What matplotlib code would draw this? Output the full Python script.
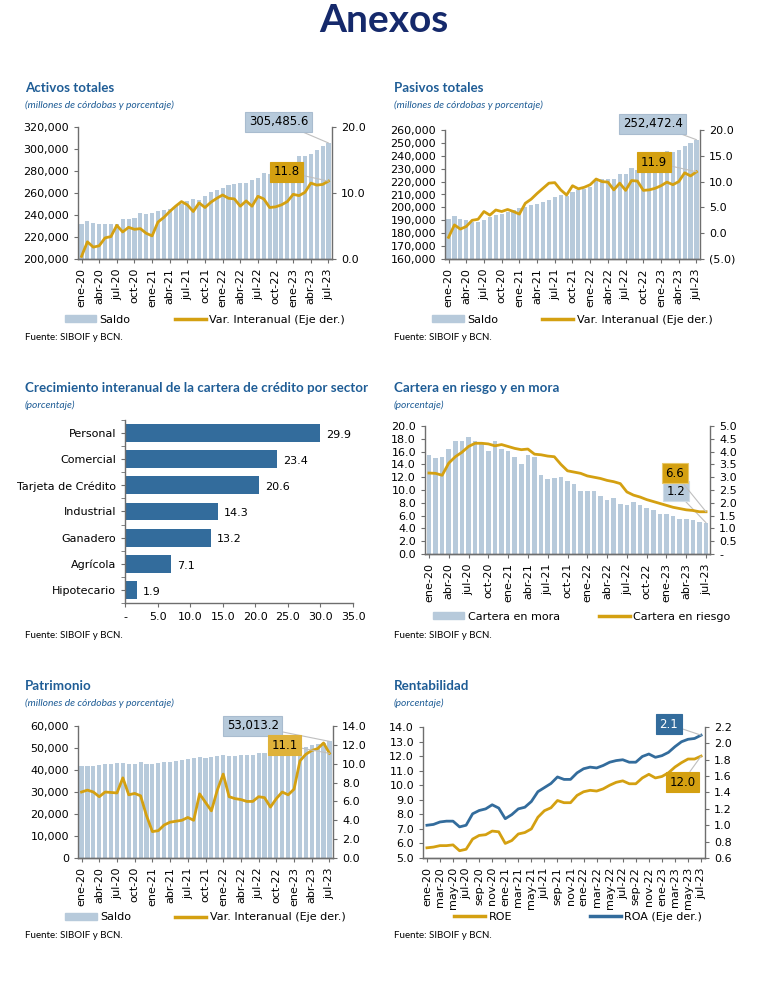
import matplotlib
matplotlib.use('Agg')
import matplotlib.pyplot as plt
from matplotlib.patches import Patch
from matplotlib.lines import Line2D

# meses ene-20 .. jul-23
meses = ['ene', 'feb', 'mar', 'abr', 'may', 'jun', 'jul', 'ago', 'sep', 'oct', 'nov', 'dic']
fechas = [m + '-' + str(a) for a in (20, 21, 22, 23) for m in meses][:43]

activos_saldo = [232000, 235000, 233000, 231500, 231500, 231500, 232000, 236000, 236500, 237500,
                 242000, 241000, 242000, 243500, 245000, 245500, 248500, 250000, 252500, 254500,
                 253500, 257500, 260500, 262500, 265000, 267000, 268000, 269000, 269000, 272000,
                 274000, 278000, 277500, 281000, 282000, 285500, 288000, 294000, 294000, 295500,
                 299500, 303000, 305485.6]
activos_var = [0.4, 2.6, 1.8, 2.0, 3.2, 3.4, 5.1, 4.1, 4.8, 4.5, 4.6, 3.9, 3.5, 5.6, 6.3, 7.2, 8.0,
               8.7, 8.2, 7.2, 8.5, 7.8, 8.6, 9.2, 9.7, 9.2, 9.1, 8.0, 8.8, 8.0, 9.5, 9.1, 7.8, 7.9,
               8.2, 8.7, 9.8, 9.6, 10.1, 11.5, 11.2, 11.3, 11.8]

pasivos_saldo = [191200, 193500, 191200, 190000, 189000, 188300, 190000, 192800, 194300, 194800,
                 196400, 198100, 199400, 200200, 202000, 203000, 204000, 205700, 208300, 209300,
                 209000, 211800, 213600, 214200, 216000, 221800, 222100, 222100, 222100, 225700,
                 225700, 230600, 229000, 231900, 232000, 233000, 235500, 243500, 242700, 244500,
                 247600, 250200, 252472.4]
pasivos_var = [-0.8, 1.6, 0.8, 1.3, 2.5, 2.7, 4.2, 3.5, 4.5, 4.2, 4.6, 4.2, 3.7, 5.8, 6.6, 7.7, 8.7,
               9.7, 9.8, 8.4, 7.4, 9.2, 8.6, 8.9, 9.4, 10.5, 10.0, 9.9, 8.4, 9.7, 8.3, 10.2, 10.1,
               8.3, 8.4, 8.7, 9.2, 9.9, 9.4, 10.0, 11.7, 11.1, 11.9]

sectores = ['Personal', 'Comercial', 'Tarjeta de Crédito', 'Industrial', 'Ganadero', 'Agrícola', 'Hipotecario']
crec_sector = [29.9, 23.4, 20.6, 14.3, 13.2, 7.1, 1.9]

cartera_mora = [3.85, 3.75, 3.8, 4.12, 4.4, 4.42, 4.57, 4.42, 4.35, 4.02, 4.4, 4.1, 4.02, 3.8, 3.5,
                3.85, 3.8, 3.1, 2.92, 2.97, 3.02, 2.85, 2.72, 2.45, 2.45, 2.45, 2.27, 2.12, 2.2,
                1.97, 1.92, 2.05, 1.9, 1.8, 1.7, 1.55, 1.55, 1.47, 1.35, 1.35, 1.32, 1.25, 1.22]
cartera_riesgo = [12.65, 12.6, 12.3, 14.2, 15.2, 15.9, 16.8, 17.3, 17.3, 17.2, 16.9, 17.1, 16.8,
                  16.5, 16.3, 16.4, 15.6, 15.5, 15.3, 15.2, 14.0, 13.0, 12.8, 12.6, 12.2, 12.0,
                  11.8, 11.5, 11.3, 11.0, 9.7, 9.2, 8.9, 8.5, 8.2, 7.9, 7.6, 7.3, 7.1, 6.9, 6.8,
                  6.6, 6.6]

patrimonio_saldo = [42000, 42000, 42000, 42400, 42800, 42800, 43200, 43200, 42800, 42800, 43600,
                    42800, 42800, 43200, 43600, 43600, 44000, 44400, 45000, 45400, 45800, 45400,
                    45800, 46200, 46600, 46200, 46200, 46600, 47000, 47000, 47800, 47800, 47400,
                    47800, 48200, 48600, 49000, 49800, 50600, 51200, 51800, 52200, 53013.2]
patrimonio_var = [7.0, 7.2, 7.0, 6.5, 7.0, 6.95, 6.9, 8.5, 6.7, 6.85, 6.6, 4.5, 2.8, 2.9, 3.5, 3.8,
                  3.9, 4.0, 4.3, 4.0, 6.8, 5.9, 5.0, 7.2, 8.9, 6.5, 6.3, 6.2, 6.0, 6.0, 6.5, 6.4,
                  5.4, 6.3, 7.0, 6.7, 7.3, 10.3, 11.0, 11.4, 11.6, 12.2, 11.1]

roe = [5.7, 5.75, 5.85, 5.85, 5.9, 5.5, 5.6, 6.3, 6.55, 6.6, 6.85, 6.8, 6.0, 6.2, 6.65, 6.75, 7.0,
       7.8, 8.25, 8.45, 8.95, 8.8, 8.8, 9.3, 9.55, 9.65, 9.6, 9.75, 10.0, 10.2, 10.3, 10.1, 10.1,
       10.5, 10.75, 10.5, 10.6, 10.85, 11.25, 11.55, 11.8, 11.8, 12.0]
roa = [1.0, 1.01, 1.04, 1.05, 1.05, 0.98, 1.0, 1.14, 1.18, 1.2, 1.25, 1.21, 1.08, 1.13, 1.2, 1.22,
       1.29, 1.41, 1.46, 1.51, 1.59, 1.56, 1.56, 1.64, 1.69, 1.71, 1.70, 1.73, 1.77, 1.79, 1.80,
       1.77, 1.77, 1.84, 1.87, 1.83, 1.85, 1.89, 1.96, 2.02, 2.05, 2.06, 2.1]

BAR = '#b7cadb'
GOLD = '#d4a011'
AZUL = '#336c9c'
TITULO = '#1f5d96'
EJE = '#6e6e6e'
FONT_TIT = ['Lato', 'DejaVu Sans']

W, H = 783, 1000
fig = plt.figure(figsize=(W / 100, H / 100), dpi=100)
fig.patch.set_facecolor('white')


def ejes(l, t, r, b):
    return fig.add_axes([l / W, 1 - b / H, (r - l) / W, (b - t) / H])


def estilo(ax, derecho=False):
    ax.spines['top'].set_visible(False)
    if not derecho:
        ax.spines['right'].set_visible(False)
    for s in ('left', 'right', 'bottom'):
        ax.spines[s].set_color(EJE)
        ax.spines[s].set_linewidth(1.0)
    ax.tick_params(labelsize=8, length=3, color=EJE, direction='out')


def cabecera(x, y, titulo, sub):
    fig.text(x / W, 1 - y / H, titulo, fontsize=9.6, fontweight='bold', color=TITULO,
             family=FONT_TIT, va='center')
    fig.text(x / W, 1 - (y + 17) / H, sub, fontsize=7.4, style='italic', color=TITULO,
             family=FONT_TIT, va='center')


def fuente(x, y):
    fig.text(x / W, 1 - y / H, 'Fuente: SIBOIF y BCN.', fontsize=7, family=FONT_TIT, va='center')


def etiqueta(ax, texto, xy, xytext, fc, tc='black', ec=None):
    ax.annotate(texto, xy=xy, xycoords='data', xytext=xytext, textcoords='axes fraction',
                fontsize=8.5, color=tc, ha='center', va='center', zorder=10,
                bbox=dict(boxstyle='square,pad=0.3', fc=fc, ec=ec or fc, lw=0.8),
                arrowprops=dict(arrowstyle='-', color='#bfbfbf', lw=0.8,
                                shrinkA=0, shrinkB=0), annotation_clip=False)


def leyenda(ax, handles, labels, y, spacing, x=0.5):
    ax.legend(handles, labels, loc='center', bbox_to_anchor=(x, y), ncol=2, frameon=False,
              fontsize=8, handlelength=2.8, handleheight=0.6, columnspacing=spacing,
              handletextpad=0.3)


def fechas_eje(ax, paso):
    idx = list(range(0, 43, paso))
    ax.set_xticks(idx)
    ax.set_xticklabels([fechas[i] for i in idx], rotation=90)
    ax.set_xlim(-0.6, 42.6)


x = list(range(43))

fig.text(0.49, 1 - 21 / H, 'Anexos', fontsize=28, fontweight='bold', color='#15296b',
         ha='center', va='center', family=FONT_TIT)

# ---- Activos totales
cabecera(25, 88, 'Activos totales', '(millones de córdobas y porcentaje)')
ax = ejes(78, 127, 332, 259)
ax.bar(x, activos_saldo, width=0.7, color=BAR)
ax.set_ylim(200000, 320000)
ax.set_yticks(range(200000, 320001, 20000))
ax.yaxis.set_major_formatter(matplotlib.ticker.StrMethodFormatter('{x:,.0f}'))
fechas_eje(ax, 3)
estilo(ax)
ax2 = ax.twinx()
ax2.plot(x, activos_var, color=GOLD, lw=2)
ax2.set_ylim(0, 20)
ax2.set_yticks([0, 10, 20])
ax2.set_yticklabels(['0.0', '10.0', '20.0'])
estilo(ax2, True)
ax2.spines['left'].set_visible(False)
etiqueta(ax, '305,485.6', (42, activos_saldo[-1]), (0.79, 1.04), '#b7cadb', ec='#a9bccf')
etiqueta(ax2, '11.8', (42, activos_var[-1]), (0.82, 0.66), GOLD)
leyenda(ax, [Patch(color=BAR), Line2D([], [], color=GOLD, lw=2.5)],
        ['Saldo', 'Var. Interanual (Eje der.)'], -0.46, 4)
fuente(25, 337)

# ---- Pasivos totales
cabecera(394, 88, 'Pasivos totales', '(millones de córdobas y porcentaje)')
ax = ejes(445, 130, 700, 259)
ax.bar(x, pasivos_saldo, width=0.7, color=BAR)
ax.set_ylim(160000, 260000)
ax.set_yticks(range(160000, 260001, 10000))
ax.yaxis.set_major_formatter(matplotlib.ticker.StrMethodFormatter('{x:,.0f}'))
fechas_eje(ax, 3)
estilo(ax)
ax2 = ax.twinx()
ax2.plot(x, pasivos_var, color=GOLD, lw=2)
ax2.set_ylim(-5, 20)
ax2.set_yticks([-5, 0, 5, 10, 15, 20])
ax2.set_yticklabels(['(5.0)', '0.0', '5.0', '10.0', '15.0', '20.0'])
estilo(ax2, True)
ax2.spines['left'].set_visible(False)
etiqueta(ax, '252,472.4', (42, pasivos_saldo[-1]), (0.815, 1.05), '#b7cadb', ec='#a9bccf')
etiqueta(ax2, '11.9', (42, pasivos_var[-1]), (0.82, 0.75), GOLD)
leyenda(ax, [Patch(color=BAR), Line2D([], [], color=GOLD, lw=2.5)],
        ['Saldo', 'Var. Interanual (Eje der.)'], -0.47, 4)
fuente(394, 337)

# ---- Crecimiento por sector
cabecera(25, 388, 'Crecimiento interanual de la cartera de crédito por sector', '(porcentaje)')
ax = ejes(125, 420, 353, 603)
y = list(range(len(sectores)))
ax.barh(y, crec_sector, height=0.68, color=AZUL)
ax.set_ylim(len(sectores) - 0.5, -0.5)
ax.set_yticks(y)
ax.set_yticklabels(sectores)
ax.set_yticks([i - 0.5 for i in range(len(sectores) + 1)], minor=True)
ax.tick_params(axis='y', which='major', length=0)
ax.tick_params(axis='y', which='minor', length=3, color=EJE)
ax.set_xlim(0, 35)
ax.set_xticks(range(0, 36, 5))
ax.set_xticklabels(['-'] + ['%.1f' % v for v in range(5, 36, 5)])
estilo(ax)
for i, v in enumerate(crec_sector):
    ax.text(v + 0.9, i + 0.07, '%.1f' % v, va='center', fontsize=8)
fuente(25, 635)

# ---- Cartera en riesgo y en mora
cabecera(394, 388, 'Cartera en riesgo y en mora', '(porcentaje)')
ax = ejes(425, 426, 710, 554)
ax.set_ylim(0, 20)
ax.set_yticks(range(0, 21, 2))
ax.set_yticklabels(['%.1f' % v for v in range(0, 21, 2)])
fechas_eje(ax, 3)
estilo(ax)
ax2 = ax.twinx()
ax2.bar(x, cartera_mora, width=0.7, color=BAR)
ax2.set_ylim(0, 5)
ax2.set_yticks([i * 0.5 for i in range(11)])
ax2.set_yticklabels(['-'] + ['%.1f' % (i * 0.5) for i in range(1, 11)])
estilo(ax2, True)
ax2.spines['left'].set_visible(False)
ax.set_zorder(ax2.get_zorder() + 1)
ax.patch.set_visible(False)
ax.plot(x, cartera_riesgo, color=GOLD, lw=2)
etiqueta(ax, '6.6', (42, cartera_riesgo[-1]), (0.877, 0.63), GOLD, ec='#e8c86a')
etiqueta(ax2, '1.2', (42, cartera_mora[-1]), (0.88, 0.49), '#b7cadb', ec='#d0dde9')
leyenda(ax, [Patch(color=BAR), Line2D([], [], color=GOLD, lw=2.5)],
        ['Cartera en mora', 'Cartera en riesgo'], -0.49, 3.5, x=0.55)
fuente(394, 635)

# ---- Patrimonio
cabecera(25, 686, 'Patrimonio', '(millones de córdobas y porcentaje)')
ax = ejes(78, 726, 333, 858)
ax.bar(x, patrimonio_saldo, width=0.7, color=BAR)
ax.set_ylim(0, 60000)
ax.set_yticks(range(0, 60001, 10000))
ax.yaxis.set_major_formatter(matplotlib.ticker.StrMethodFormatter('{x:,.0f}'))
fechas_eje(ax, 3)
estilo(ax)
ax2 = ax.twinx()
ax2.plot(x, patrimonio_var, color=GOLD, lw=2)
ax2.set_ylim(0, 14)
ax2.set_yticks(range(0, 15, 2))
ax2.set_yticklabels(['%.1f' % v for v in range(0, 15, 2)])
estilo(ax2, True)
ax2.spines['left'].set_visible(False)
etiqueta(ax, '53,013.2', (42, patrimonio_saldo[-1]), (0.686, 1.0), '#b7cadb', ec='#a9bccf')
etiqueta(ax2, '11.1', (42, patrimonio_var[-1]), (0.81, 0.856), '#dfb23a')
leyenda(ax, [Patch(color=BAR), Line2D([], [], color=GOLD, lw=2.5)],
        ['Saldo', 'Var. Interanual (Eje der.)'], -0.45, 4)
fuente(25, 935)

# ---- Rentabilidad
cabecera(394, 686, 'Rentabilidad', '(porcentaje)')
ax = ejes(423, 727, 705, 858)
ax.plot(x, roe, color=GOLD, lw=2)
ax.set_ylim(5, 14)
ax.set_yticks(range(5, 15))
ax.set_yticklabels(['%.1f' % v for v in range(5, 15)])
fechas_eje(ax, 2)
estilo(ax)
ax2 = ax.twinx()
ax2.plot(x, roa, color=AZUL, lw=2)
ax2.set_ylim(0.6, 2.2)
ax2.set_yticks([0.6 + 0.2 * i for i in range(9)])
ax2.set_yticklabels(['%.1f' % (0.6 + 0.2 * i) for i in range(9)])
estilo(ax2, True)
ax2.spines['left'].set_visible(False)
etiqueta(ax2, '2.1', (42, roa[-1]), (0.872, 1.02), AZUL, tc='white')
etiqueta(ax, '12.0', (42, roe[-1]), (0.92, 0.58), GOLD)
leyenda(ax, [Line2D([], [], color=GOLD, lw=2.5), Line2D([], [], color=AZUL, lw=2.5)],
        ['ROE', 'ROA (Eje der.)'], -0.45, 7, x=0.55)
fuente(394, 935)

fig.savefig('out.png', dpi=100, facecolor='white')
